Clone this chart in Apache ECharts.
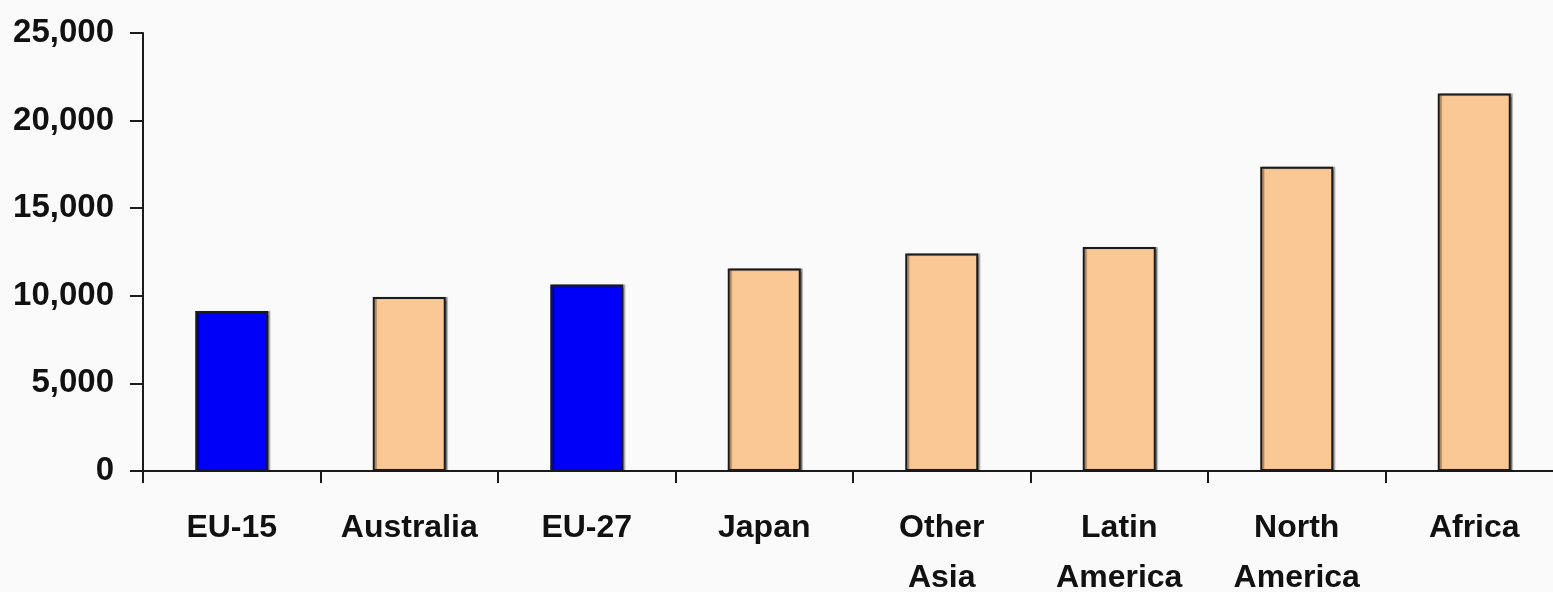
<!DOCTYPE html>
<html>
<head>
<meta charset="utf-8">
<script src="https://cdn.jsdelivr.net/npm/echarts@6/dist/echarts.min.js"></script>
<style>
html,body{margin:0;padding:0;background:#fafafa;}
#chart{width:1553px;height:592px;}
</style>
</head>
<body>
<div id="chart"></div>
<script>
const categories = ['EU-15', 'Australia', 'EU-27', 'Japan', 'Other\nAsia', 'Latin\nAmerica', 'North\nAmerica', 'Africa'];
const values = [9130, 9930, 10640, 11560, 12410, 12790, 17360, 21540];
const isEU = [true, false, true, false, false, false, false, false];
const yTicks = { min: 0, max: 25000, interval: 5000 };

const BLUE = '#0000fa';
const PEACH = '#f9c894';

const chart = echarts.init(document.getElementById('chart'), null, { renderer: 'canvas' });
chart.setOption({
  backgroundColor: '#fafafa',
  animation: false,
  textStyle: { fontFamily: 'Liberation Sans, Arial, sans-serif' },
  grid: { left: 143, top: 33, width: 1420, bottom: 121, containLabel: false, outerBoundsMode: 'none' },
  xAxis: {
    type: 'category',
    data: categories,
    boundaryGap: true,
    axisLine: { show: true, lineStyle: { color: '#1a1a1a', width: 2 } },
    axisTick: { show: true, alignWithLabel: false, length: 12, lineStyle: { color: '#1a1a1a', width: 2 } },
    axisLabel: {
      interval: 0,
      margin: 32,
      color: '#111',
      fontSize: 32,
      fontWeight: 'bold',
      lineHeight: 50,
      fontFamily: 'Liberation Sans, Arial, sans-serif'
    },
    splitLine: { show: false }
  },
  yAxis: {
    type: 'value',
    min: yTicks.min,
    max: yTicks.max,
    interval: yTicks.interval,
    axisLine: { show: true, lineStyle: { color: '#1a1a1a', width: 2 } },
    axisTick: { show: true, length: 13, lineStyle: { color: '#1a1a1a', width: 2 } },
    axisLabel: {
      margin: 29,
      color: '#111',
      fontSize: 33,
      fontWeight: 'bold',
      fontFamily: 'Liberation Sans, Arial, sans-serif',
      formatter: v => v.toLocaleString('en-US')
    },
    splitLine: { show: false }
  },
  series: [{
    type: 'bar',
    barWidth: 73,
    data: values.map((v, i) => ({
      value: v,
      itemStyle: { color: isEU[i] ? BLUE : PEACH }
    })),
    itemStyle: {
      borderColor: '#1a1a1a',
      borderWidth: 2,
      shadowColor: 'rgba(0,0,0,0.35)',
      shadowOffsetX: 2,
      shadowBlur: 1
    }
  }]
});
</script>
</body>
</html>
